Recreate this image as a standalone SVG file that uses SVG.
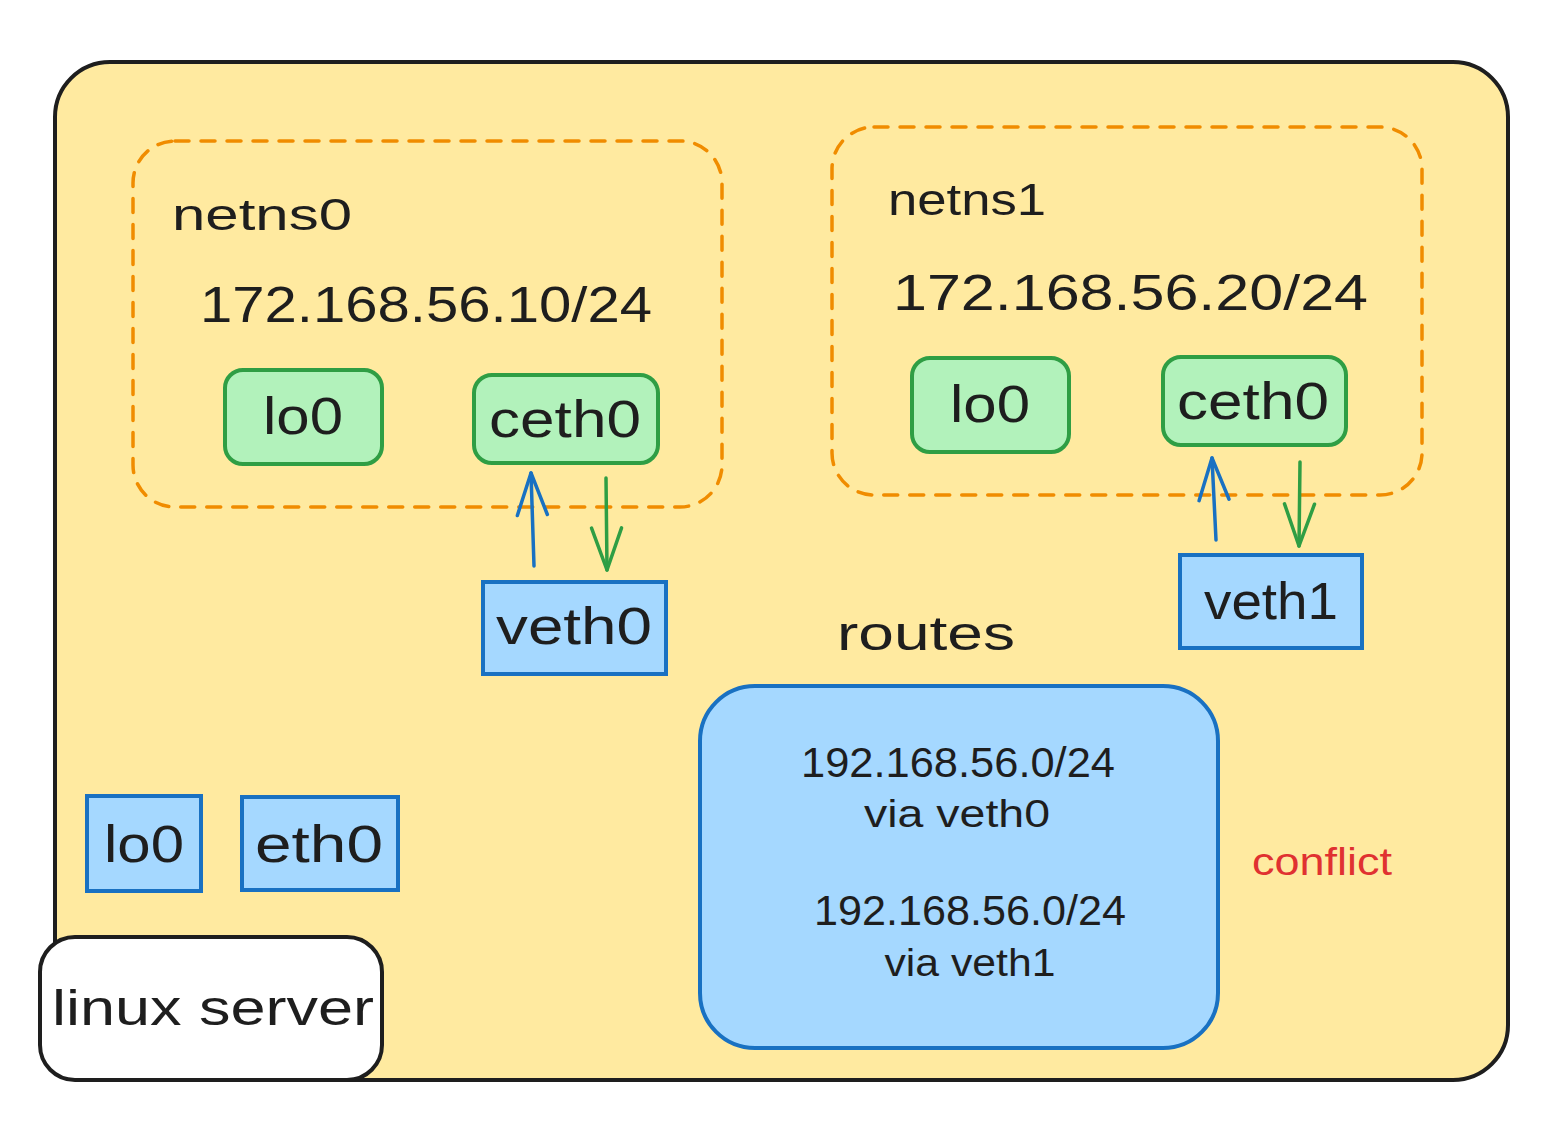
<svg xmlns="http://www.w3.org/2000/svg" width="1560" height="1146" viewBox="0 0 1560 1146">
<style>
text{font-family:"Liberation Sans","DejaVu Sans",sans-serif;fill:#1e1e1e}
.ns{fill:none;stroke:#f08c00;stroke-width:3.5;stroke-dasharray:14 12;stroke-linecap:round}
.g{fill:#b2f2bb;stroke:#2f9e44;stroke-width:4}
.b{fill:#a5d8ff;stroke:#1971c2;stroke-width:4}
.up{stroke:#1971c2;stroke-width:3.5;fill:none;stroke-linecap:round}
.dn{stroke:#2f9e44;stroke-width:3.5;fill:none;stroke-linecap:round}
.lbl{font-size:52px;text-anchor:middle}
</style>
<defs>
<marker id="ab" viewBox="0 0 20 20" refX="18" refY="10" markerWidth="20" markerHeight="20" markerUnits="userSpaceOnUse" orient="auto" overflow="visible">
<path d="M-24,-5 L18,10 L-24,25" fill="none" stroke="#1971c2" stroke-width="3.5" stroke-linecap="round" stroke-linejoin="round"/>
</marker>
<marker id="ag" viewBox="0 0 20 20" refX="18" refY="10" markerWidth="20" markerHeight="20" markerUnits="userSpaceOnUse" orient="auto" overflow="visible">
<path d="M-24,-5 L18,10 L-24,25" fill="none" stroke="#2f9e44" stroke-width="3.5" stroke-linecap="round" stroke-linejoin="round"/>
</marker>
</defs>
<g id="server">
<rect x="55" y="62" width="1453" height="1018" rx="55" fill="#ffeaa0" stroke="#1e1e1e" stroke-width="4"/>
</g>
<g id="netns0">
<rect class="ns" x="133" y="141" width="589" height="366" rx="42"/>
<text x="172" y="230" font-size="44" textLength="180" lengthAdjust="spacingAndGlyphs">netns0</text>
<text x="200" y="322" font-size="50" textLength="452" lengthAdjust="spacingAndGlyphs">172.168.56.10/24</text>
</g>
<g id="netns1">
<rect class="ns" x="832" y="127" width="590" height="368" rx="42"/>
<text x="888" y="215" font-size="44" textLength="158" lengthAdjust="spacingAndGlyphs">netns1</text>
<text x="893" y="310" font-size="50" textLength="475" lengthAdjust="spacingAndGlyphs">172.168.56.20/24</text>
</g>
<g id="ns0-lo0">
<rect class="g" x="225" y="370" width="157" height="94" rx="18"/>
<text class="lbl" x="303" y="434" textLength="80" lengthAdjust="spacingAndGlyphs">lo0</text>
</g>
<g id="ns0-ceth0">
<rect class="g" x="474" y="375" width="184" height="88" rx="18"/>
<text class="lbl" x="565" y="437" textLength="152" lengthAdjust="spacingAndGlyphs">ceth0</text>
</g>
<g id="ns1-lo0">
<rect class="g" x="912" y="358" width="157" height="94" rx="18"/>
<text class="lbl" x="990" y="422" textLength="80" lengthAdjust="spacingAndGlyphs">lo0</text>
</g>
<g id="ns1-ceth0">
<rect class="g" x="1163" y="357" width="183" height="88" rx="18"/>
<text class="lbl" x="1253" y="419" textLength="152" lengthAdjust="spacingAndGlyphs">ceth0</text>
</g>
<g id="veth0">
<rect class="b" x="483" y="582" width="183" height="92"/>
<text class="lbl" x="574" y="644" textLength="156" lengthAdjust="spacingAndGlyphs">veth0</text>
</g>
<g id="veth1">
<rect class="b" x="1180" y="555" width="182" height="93"/>
<text class="lbl" x="1271" y="619" textLength="134" lengthAdjust="spacingAndGlyphs">veth1</text>
</g>
<g id="routes">
<text x="926" y="650" font-size="48" text-anchor="middle" textLength="178" lengthAdjust="spacingAndGlyphs">routes</text>
<rect class="b" x="700" y="686" width="518" height="362" rx="55"/>
<text x="958" y="777" font-size="42" text-anchor="middle" textLength="314" lengthAdjust="spacingAndGlyphs">192.168.56.0/24</text>
<text x="957" y="827" font-size="38" text-anchor="middle" textLength="186" lengthAdjust="spacingAndGlyphs">via veth0</text>
<text x="970" y="925" font-size="42" text-anchor="middle" textLength="312" lengthAdjust="spacingAndGlyphs">192.168.56.0/24</text>
<text x="970" y="976" font-size="38" text-anchor="middle" textLength="171" lengthAdjust="spacingAndGlyphs">via veth1</text>
</g>
<g id="conflict">
<text x="1252" y="875" font-size="38" style="fill:#e03131" textLength="140" lengthAdjust="spacingAndGlyphs">conflict</text>
</g>
<g id="host-lo0">
<rect class="b" x="87" y="796" width="114" height="95"/>
<text class="lbl" x="144" y="862" textLength="80" lengthAdjust="spacingAndGlyphs">lo0</text>
</g>
<g id="host-eth0">
<rect class="b" x="242" y="797" width="156" height="93"/>
<text class="lbl" x="319" y="862" textLength="128" lengthAdjust="spacingAndGlyphs">eth0</text>
</g>
<g id="linux-server">
<rect x="40" y="937" width="342" height="143" rx="35" fill="#ffffff" stroke="#1e1e1e" stroke-width="4"/>
<text x="52" y="1025" font-size="50" textLength="322" lengthAdjust="spacingAndGlyphs">linux server</text>
</g>
<g id="connectors">
<path class="up" d="M534,566 L531,473" marker-end="url(#ab)"/>
<path class="dn" d="M606,478 L607,570" marker-end="url(#ag)"/>
<path class="up" d="M1216,540 L1212,458" marker-end="url(#ab)"/>
<path class="dn" d="M1300,462 L1299,546" marker-end="url(#ag)"/>
</g>
</svg>
